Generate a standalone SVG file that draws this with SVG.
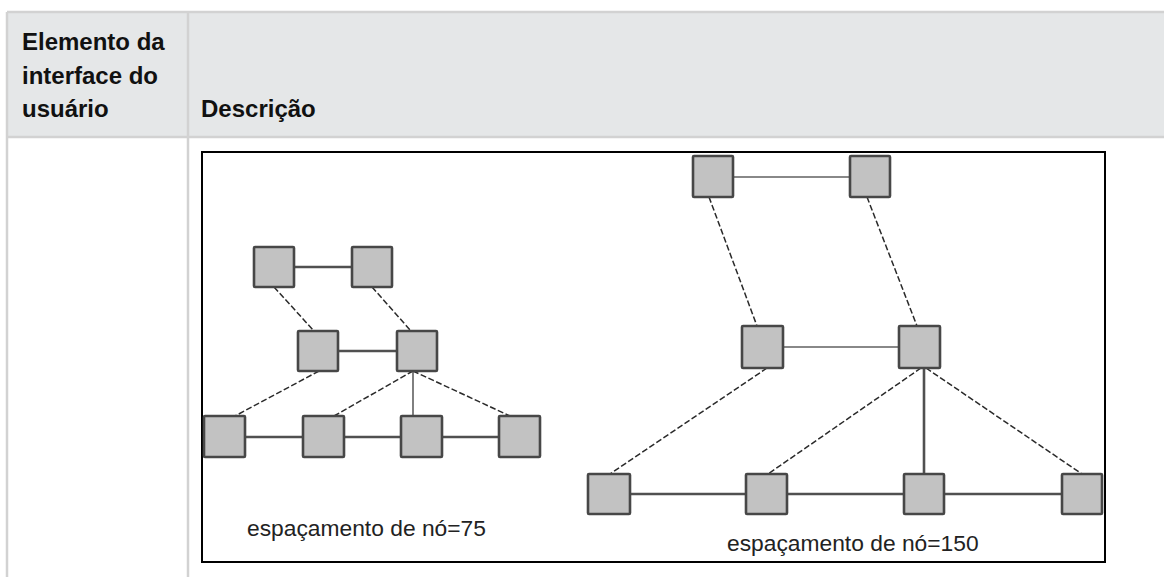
<svg xmlns="http://www.w3.org/2000/svg" width="1164" height="577" viewBox="0 0 1164 577">
  <style>
    .hdr { font-family: "Liberation Sans", Arial, sans-serif; font-weight: bold; font-size: 24px; fill: #111; }
    .cap { font-family: "Liberation Sans", Arial, sans-serif; font-size: 22.8px; fill: #222; }
    .node { fill: #c2c2c2; stroke: #474747; stroke-width: 2.6; }
    .solid { stroke: #505050; stroke-width: 2.6; fill: none; }
    .thin { stroke: #606060; stroke-width: 1.6; fill: none; }
    .dash { stroke: #2a2a2a; stroke-width: 1.5; stroke-dasharray: 6 2.5; fill: none; }
    .rule { stroke: #d2d2d2; stroke-width: 2.5; fill: none; }
  </style>

  <!-- table header -->
  <rect x="7" y="12" width="1157" height="125" fill="#e5e7e8"/>
  <g id="table-lines">
    <line class="rule" x1="7" y1="12" x2="1164" y2="12"/>
    <line class="rule" x1="7" y1="137" x2="1164" y2="137"/>
    <line class="rule" x1="7" y1="12" x2="7" y2="577"/>
    <line class="rule" x1="188" y1="12" x2="188" y2="577"/>
  </g>
  <g id="header-text">
    <text class="hdr" x="22" y="50">Elemento da</text>
    <text class="hdr" x="22" y="83.5">interface do</text>
    <text class="hdr" x="22" y="117">usuário</text>
    <text class="hdr" x="201" y="117">Descrição</text>
  </g>

  <!-- figure frame -->
  <rect id="frame" x="202" y="152" width="903" height="410" fill="#fff" stroke="#000" stroke-width="2"/>

  <g id="connectors">
    <!-- spacing 75 -->
    <line class="solid" x1="294" y1="267" x2="352" y2="267"/>
    <line class="solid" x1="338" y1="351" x2="397" y2="351"/>
    <line class="solid" x1="245" y1="437" x2="303" y2="437"/>
    <line class="solid" x1="344" y1="437" x2="401" y2="437"/>
    <line class="solid" x1="442" y1="437" x2="499" y2="437"/>
    <line class="dash" x1="274" y1="287" x2="314" y2="331"/>
    <line class="dash" x1="372" y1="287" x2="411" y2="331"/>
    <line class="dash" x1="319" y1="371" x2="235" y2="416"/>
    <line class="dash" x1="413" y1="371" x2="334" y2="416"/>
    <line class="thin" x1="413" y1="371" x2="413" y2="416"/>
    <line class="dash" x1="413" y1="371" x2="510" y2="416"/>
    <!-- spacing 150 -->
    <line class="thin" x1="733" y1="177" x2="850" y2="177"/>
    <line class="thin" x1="783" y1="347" x2="899" y2="347"/>
    <line class="solid" x1="630" y1="494" x2="746" y2="494"/>
    <line class="solid" x1="787" y1="494" x2="904" y2="494"/>
    <line class="solid" x1="944" y1="494" x2="1062" y2="494"/>
    <line class="dash" x1="709" y1="197" x2="757" y2="326"/>
    <line class="dash" x1="867" y1="197" x2="917" y2="326"/>
    <line class="dash" x1="767" y1="368" x2="610" y2="474"/>
    <line class="dash" x1="921" y1="368" x2="768" y2="474"/>
    <line class="solid" x1="924" y1="368" x2="924" y2="474"/>
    <line class="dash" x1="926" y1="368" x2="1082" y2="474"/>
  </g>

  <!-- spacing 75 nodes -->
  <g id="n75-a"><rect class="node" x="254" y="247" width="40" height="40" rx="1"/></g>
  <g id="n75-b"><rect class="node" x="352" y="247" width="40" height="40" rx="1"/></g>
  <g id="n75-c"><rect class="node" x="298" y="331" width="40" height="40" rx="1"/></g>
  <g id="n75-d"><rect class="node" x="397" y="331" width="40" height="40" rx="1"/></g>
  <g id="n75-e"><rect class="node" x="204" y="416" width="41" height="41" rx="1"/></g>
  <g id="n75-f"><rect class="node" x="303" y="416" width="41" height="41" rx="1"/></g>
  <g id="n75-g"><rect class="node" x="401" y="416" width="41" height="41" rx="1"/></g>
  <g id="n75-h"><rect class="node" x="499" y="416" width="41" height="41" rx="1"/></g>

  <!-- spacing 150 nodes -->
  <g id="n150-a"><rect class="node" x="693" y="156" width="40" height="41" rx="1"/></g>
  <g id="n150-b"><rect class="node" x="850" y="156" width="40" height="41" rx="1"/></g>
  <g id="n150-c"><rect class="node" x="742" y="326" width="41" height="42" rx="1"/></g>
  <g id="n150-d"><rect class="node" x="899" y="326" width="41" height="42" rx="1"/></g>
  <g id="n150-e"><rect class="node" x="588" y="474" width="42" height="40" rx="1"/></g>
  <g id="n150-f"><rect class="node" x="746" y="474" width="41" height="40" rx="1"/></g>
  <g id="n150-g"><rect class="node" x="904" y="474" width="40" height="40" rx="1"/></g>
  <g id="n150-h"><rect class="node" x="1062" y="474" width="40" height="40" rx="1"/></g>

  <g id="captions">
    <text class="cap" x="247" y="536">espaçamento de nó=75</text>
    <text class="cap" x="727" y="551">espaçamento de nó=150</text>
  </g>
</svg>
